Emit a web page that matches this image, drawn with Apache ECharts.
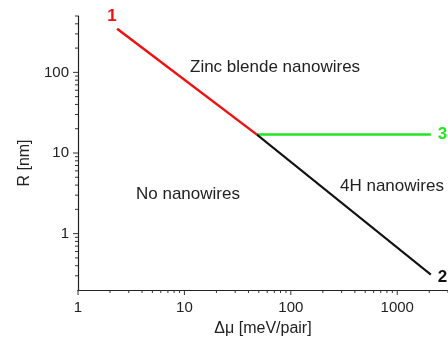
<!DOCTYPE html>
<html>
<head>
<meta charset="utf-8">
<script src="https://cdn.jsdelivr.net/npm/echarts@6/dist/echarts.min.js"></script>
<style>
  html, body { margin: 0; padding: 0; background: #fff; }
  #chart { width: 448px; height: 341px; }
</style>
</head>
<body>
<div id="chart"></div>
<script>
const FONT = '"Liberation Sans", Arial, sans-serif';

// boundary lines (Δμ in meV/pair, R in nm)
const redX = [2.33, 48];
const redY = [347, 16.9];
const greenX = [48, 2070];
const greenY = [16.9, 16.9];
const blackX = [48, 2070];
const blackY = [16.9, 0.31];

// axis ranges and ticks
const xMin = 1, xMax = 3000;
const yMin = 0.2, yMax = 500;
const xMajor = [1, 10, 100, 1000];
const yMajor = [1, 10, 100];
const minorMult = [2, 3, 4, 5, 6, 7, 8, 9];
const xDecades = [1, 10, 100, 1000];
const yDecades = [0.1, 1, 10, 100];

const xMinor = [];
xDecades.forEach(d => minorMult.forEach(m => {
  const v = +(d * m).toPrecision(6);
  if (v >= xMin && v <= xMax) xMinor.push(v);
}));
const yMinor = [];
yDecades.forEach(d => minorMult.forEach(m => {
  const v = +(d * m).toPrecision(6);
  if (v > yMin && v <= yMax) yMinor.push(v);
}));

const pairs = (xs, ys) => xs.map((x, i) => [x, ys[i]]);

// ticks drawn by hand so the log minors sit at 2..9
function xTicks(len) {
  return (params, api) => {
    const p = api.coord([api.value(0), yMin]);
    return { type: 'line', shape: { x1: p[0], y1: p[1], x2: p[0], y2: p[1] + len },
      style: { stroke: '#333', lineWidth: 1 } };
  };
}
function yTicks(len) {
  return (params, api) => {
    const p = api.coord([xMin, api.value(1)]);
    return { type: 'line', shape: { x1: p[0] - len, y1: p[1], x2: p[0], y2: p[1] },
      style: { stroke: '#333', lineWidth: 1 } };
  };
}

const endLabel = (text, color, pos, offset) => ({
  show: true, formatter: text, position: pos, offset: offset,
  color: color, fontFamily: FONT, fontWeight: 'bold', fontSize: 17
});

const chart = echarts.init(document.getElementById('chart'));
chart.setOption({
  animation: false,
  backgroundColor: '#fff',
  grid: { left: 78, right: 0, top: 16, bottom: 51, containLabel: false, outerBoundsMode: 'none' },
  xAxis: {
    type: 'log', logBase: 10, min: xMin, max: xMax,
    name: 'Δμ [meV/pair]', nameLocation: 'middle', nameGap: 31,
    nameTextStyle: { fontFamily: FONT, fontSize: 16, color: '#222' },
    axisLine: { lineStyle: { color: '#222', width: 1.2 } },
    axisTick: { show: false },
    splitLine: { show: false },
    axisLabel: {
      fontFamily: FONT, fontSize: 15, color: '#222', margin: 10,
      showMaxLabel: false,
      formatter: v => String(+(+v).toPrecision(4))
    }
  },
  yAxis: {
    type: 'log', logBase: 10, min: yMin, max: yMax,
    name: 'R [nm]', nameLocation: 'middle', nameGap: 44,
    nameTextStyle: { fontFamily: FONT, fontSize: 16, color: '#222', padding: [0, 20, 0, 0] },
    axisLine: { lineStyle: { color: '#222', width: 1.2 } },
    axisTick: { show: false },
    splitLine: { show: false },
    axisLabel: {
      fontFamily: FONT, fontSize: 15, color: '#222', margin: 9,
      showMinLabel: false, showMaxLabel: false,
      formatter: v => String(+(+v).toPrecision(4))
    }
  },
  graphic: [
    { type: 'text', left: 190, top: 59, style: { text: 'Zinc blende nanowires', font: '17px ' + FONT, fill: '#222' } },
    { type: 'text', left: 136, top: 186, style: { text: 'No nanowires', font: '17px ' + FONT, fill: '#222' } },
    { type: 'text', left: 340, top: 178, style: { text: '4H nanowires', font: '17px ' + FONT, fill: '#222' } }
  ],
  series: [
    { type: 'custom', clip: false, silent: true, data: xMajor.map(v => [v, yMin]), renderItem: xTicks(5), z: 5 },
    { type: 'custom', clip: false, silent: true, data: xMinor.map(v => [v, yMin]), renderItem: xTicks(3), z: 5 },
    { type: 'custom', clip: false, silent: true, data: yMajor.map(v => [xMin, v]), renderItem: yTicks(5), z: 5 },
    { type: 'custom', clip: false, silent: true, data: yMinor.map(v => [xMin, v]), renderItem: yTicks(3), z: 5 },
    {
      type: 'line', data: pairs(greenX, greenY), showSymbol: false, symbol: 'none',
      lineStyle: { color: '#22e622', width: 2.5 }, z: 3,
      markPoint: {
        symbol: 'circle', symbolSize: 0,
        data: [{ coord: [greenX[1], greenY[1]], label: endLabel('3', '#22e622', 'right', [2, 0]) }]
      }
    },
    {
      type: 'line', data: pairs(blackX, blackY), showSymbol: false, symbol: 'none',
      lineStyle: { color: '#111', width: 2 }, z: 3,
      markPoint: {
        symbol: 'circle', symbolSize: 0,
        data: [{ coord: [blackX[1], blackY[1]], label: endLabel('2', '#111', 'right', [2, 3]) }]
      }
    },
    {
      type: 'line', data: pairs(redX, redY), showSymbol: false, symbol: 'none',
      lineStyle: { color: '#f01010', width: 2.5 }, z: 4,
      markPoint: {
        symbol: 'circle', symbolSize: 0,
        data: [{ coord: [redX[0], redY[0]], label: endLabel('1', '#f01010', 'top', [-5, 1]) }]
      }
    }
  ]
});
</script>
</body>
</html>
